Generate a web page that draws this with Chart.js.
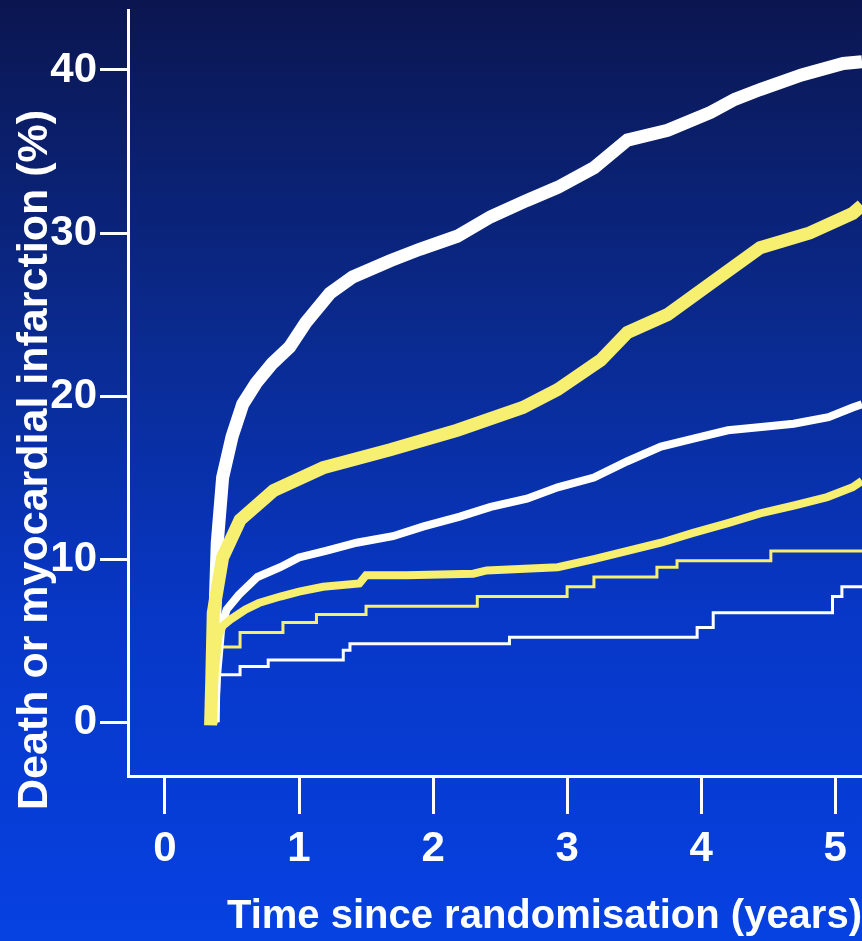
<!DOCTYPE html>
<html>
<head>
<meta charset="utf-8">
<script src="https://cdn.jsdelivr.net/npm/chart.js@4.4.1/dist/chart.umd.min.js"></script>
<style>
  html, body { margin: 0; padding: 0; background: #0a2a90; }
  #wrap { width: 862px; height: 941px; }
</style>
</head>
<body>
<div id="wrap"><canvas id="kmChart"></canvas></div>
<script>
// tick labels
const xTicks = [0, 1, 2, 3, 4, 5];
const yTicks = [0, 10, 20, 30, 40];
const xTitle = 'Time since randomisation (years)';
const yTitle = 'Death or myocardial infarction (%)';

// thick white curve (highest)
const thickWhiteX = [0.36, 0.37, 0.39, 0.43, 0.5, 0.58, 0.68, 0.8, 0.93, 1.05, 1.23, 1.4, 1.68, 1.9, 2.18, 2.43, 2.7, 2.93, 3.2, 3.45, 3.75, 4.07, 4.25, 4.44, 4.75, 5.06, 5.2];
const thickWhiteY = [0, 6, 11, 15, 17.5, 19.5, 20.8, 22, 23, 24.5, 26.3, 27.3, 28.3, 29, 29.8, 31, 32, 32.8, 34, 35.7, 36.3, 37.4, 38.2, 38.8, 39.7, 40.4, 40.5];

// thick yellow curve
const thickYellowX = [0.34, 0.35, 0.36, 0.43, 0.56, 0.81, 1.18, 1.68, 2.18, 2.67, 2.93, 3.25, 3.45, 3.75, 4.07, 4.44, 4.81, 5.13, 5.2];
const thickYellowY = [-0.2, 3, 6.7, 10.1, 12.4, 14.2, 15.6, 16.7, 17.9, 19.3, 20.4, 22.2, 23.9, 25, 26.9, 29.1, 30, 31.2, 31.7];

// medium white curve
const midWhiteX = [0.37, 0.39, 0.42, 0.46, 0.55, 0.69, 0.86, 1.0, 1.2, 1.43, 1.7, 1.93, 2.2, 2.43, 2.7, 2.93, 3.2, 3.45, 3.7, 3.95, 4.2, 4.45, 4.69, 4.95, 5.13, 5.2];
const midWhiteY = [0, 3, 5.8, 6.9, 7.8, 8.9, 9.5, 10.1, 10.5, 11.0, 11.4, 12.0, 12.6, 13.2, 13.7, 14.4, 15.0, 16.0, 16.9, 17.4, 17.9, 18.1, 18.3, 18.7, 19.3, 19.5];

// medium yellow curve
const midYellowX = [0.35, 0.37, 0.4, 0.43, 0.49, 0.6, 0.7, 0.86, 1.0, 1.18, 1.45, 1.5, 1.8, 2.3, 2.4, 2.93, 3.2, 3.45, 3.7, 3.94, 4.2, 4.44, 4.7, 4.94, 5.13, 5.2];
const midYellowY = [0, 3, 5.3, 5.9, 6.3, 6.9, 7.3, 7.7, 8.0, 8.3, 8.5, 9.0, 9.0, 9.1, 9.3, 9.5, 10.0, 10.5, 11.0, 11.6, 12.2, 12.8, 13.3, 13.8, 14.4, 14.8];

// thin yellow step curve
const thinYellowX = [0.37, 0.38, 0.56, 0.88, 1.13, 1.5, 2.33, 3.0, 3.2, 3.67, 3.82, 4.52, 5.2];
const thinYellowY = [0, 4.6, 5.5, 6.1, 6.6, 7.1, 7.7, 8.3, 8.9, 9.5, 9.9, 10.5, 10.5];

// thin white step curve (lowest)
const thinWhiteX = [0.37, 0.38, 0.56, 0.77, 1.33, 1.38, 2.57, 3.97, 4.09, 4.98, 5.05, 5.2];
const thinWhiteY = [0, 2.9, 3.4, 3.8, 4.4, 4.8, 5.2, 5.8, 6.7, 7.7, 8.3, 8.3];

const WHITE = '#ffffff';
const YELLOW = '#f7ef6f';
const FONT = "'Liberation Sans', Arial, Helvetica, sans-serif";

const toPoints = (xs, ys) => xs.map((x, i) => ({ x: x, y: ys[i] }));

function makeSet(label, xs, ys, color, width, stepped) {
    return {
        label: label,
        data: toPoints(xs, ys),
        showLine: true,
        borderColor: color,
        backgroundColor: color,
        borderWidth: width,
        pointRadius: 0,
        tension: 0,
        stepped: stepped,
        borderJoinStyle: 'miter',
        fill: false
    };
}

// no extra room for half tick labels at the ends of the axes
function noEdgePadding(s) {
    s.paddingTop = 0;
    s.paddingBottom = 0;
    s.paddingLeft = 0;
    s.paddingRight = 0;
}

// background gradient and rotated y title
const backdrop = {
    id: 'backdrop',
    beforeDraw(chart) {
        const ctx = chart.ctx;
        const g = ctx.createLinearGradient(0, 0, 0, chart.height);
        g.addColorStop(0, '#0b1650');
        g.addColorStop(0.35, '#0a2a8e');
        g.addColorStop(0.65, '#0737c6');
        g.addColorStop(1, '#0641e2');
        ctx.save();
        ctx.fillStyle = g;
        ctx.fillRect(0, 0, chart.width, chart.height);
        ctx.restore();
    },
    afterDraw(chart) {
        const ctx = chart.ctx;
        ctx.save();
        ctx.translate(35, 460);
        ctx.rotate(-Math.PI / 2);
        ctx.fillStyle = WHITE;
        ctx.font = 'bold 43px ' + FONT;
        ctx.textAlign = 'center';
        ctx.textBaseline = 'middle';
        ctx.fillText(yTitle, 0, 0);
        ctx.restore();
    }
};

const ctx = document.getElementById('kmChart').getContext('2d');
new Chart(ctx, {
    type: 'scatter',
    data: {
        datasets: [
            makeSet('Thick yellow', thickYellowX, thickYellowY, YELLOW, 13, false),
            makeSet('Medium yellow', midYellowX, midYellowY, YELLOW, 8, false),
            makeSet('Thick white', thickWhiteX, thickWhiteY, WHITE, 13, false),
            makeSet('Medium white', midWhiteX, midWhiteY, WHITE, 8, false),
            makeSet('Thin yellow', thinYellowX, thinYellowY, YELLOW, 3, true),
            makeSet('Thin white', thinWhiteX, thinWhiteY, WHITE, 3, true)
        ]
    },
    options: {
        responsive: true,
        maintainAspectRatio: false,
        animation: false,
        layout: { padding: { top: 10, right: 0, bottom: 0, left: 0 } },
        plugins: {
            legend: { display: false },
            tooltip: { enabled: false }
        },
        scales: {
            x: {
                type: 'linear',
                min: -0.276,
                max: 5.2,
                afterBuildTicks: s => { s.ticks = xTicks.map(v => ({ value: v })); },
                afterFit: s => { s.height = 165; noEdgePadding(s); },
                border: { display: true, color: WHITE, width: 3 },
                grid: { drawOnChartArea: false, drawTicks: true, tickLength: 38, color: WHITE, lineWidth: 3 },
                ticks: { color: WHITE, padding: 10, font: { family: FONT, size: 42, weight: 'bold' } },
                title: {
                    display: true,
                    text: xTitle,
                    align: 'end',
                    color: WHITE,
                    padding: { top: 0, bottom: 0 },
                    font: { family: FONT, size: 40, weight: 'bold' }
                }
            },
            y: {
                type: 'linear',
                min: -3.31,
                max: 43.68,
                afterBuildTicks: s => { s.ticks = yTicks.map(v => ({ value: v })); },
                afterFit: s => { s.width = 128; noEdgePadding(s); },
                border: { display: true, color: WHITE, width: 3 },
                grid: { drawOnChartArea: false, drawTicks: true, tickLength: 28, color: WHITE, lineWidth: 3 },
                ticks: { color: WHITE, padding: 3, font: { family: FONT, size: 42, weight: 'bold' } }
            }
        }
    },
    plugins: [backdrop]
});
</script>
</body>
</html>
